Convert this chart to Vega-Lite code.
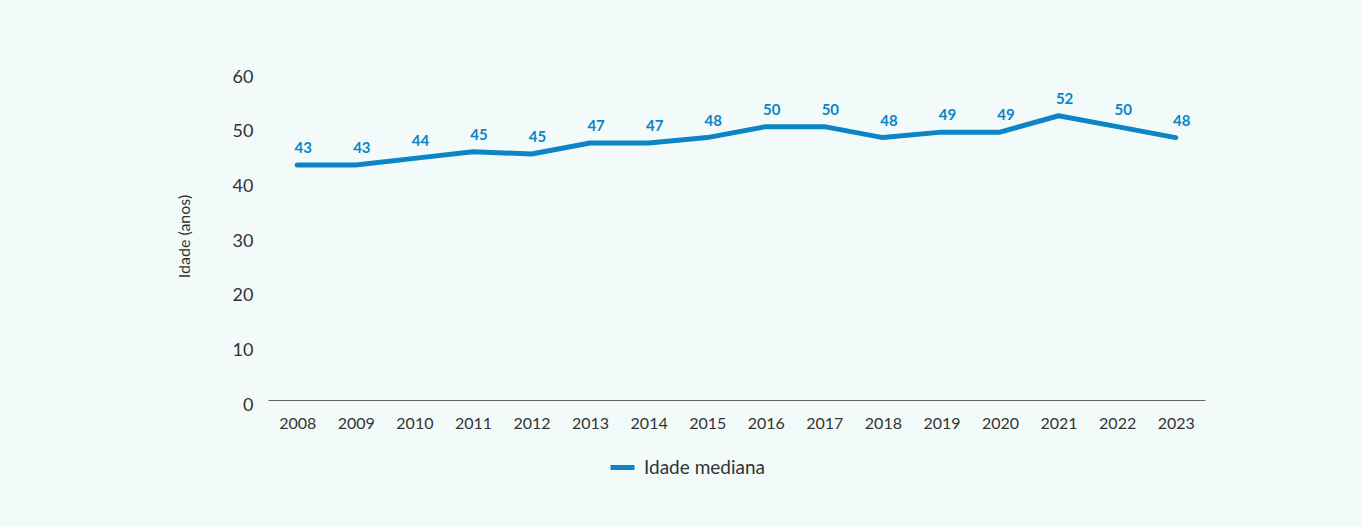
{
  "$schema": "https://vega.github.io/schema/vega-lite/v6.json",
  "width": 937,
  "height": 328,
  "autosize": "none",
  "padding": {"left": 268, "top": 72, "right": 157, "bottom": 127},
  "background": "#f2fbf9",
  "config": {
    "font": "Lato",
    "view": {"stroke": null},
    "axis": {"labelColor": "#333333", "titleColor": "#333333", "labelFont": "Lato", "titleFont": "Lato"},
    "legend": {"labelFont": "Lato"}
  },
  "data": {
    "values": [
      {"ano": "2008", "idade": 43},
      {"ano": "2009", "idade": 43},
      {"ano": "2010", "idade": 44.2},
      {"ano": "2011", "idade": 45.4},
      {"ano": "2012", "idade": 45},
      {"ano": "2013", "idade": 47},
      {"ano": "2014", "idade": 47},
      {"ano": "2015", "idade": 48},
      {"ano": "2016", "idade": 50},
      {"ano": "2017", "idade": 50},
      {"ano": "2018", "idade": 48},
      {"ano": "2019", "idade": 49},
      {"ano": "2020", "idade": 49},
      {"ano": "2021", "idade": 52},
      {"ano": "2022", "idade": 50},
      {"ano": "2023", "idade": 48}
    ]
  },
  "encoding": {
    "x": {
      "field": "ano",
      "type": "ordinal",
      "scale": {"type": "point", "padding": 0.5},
      "axis": {
        "title": null,
        "labelAngle": 0,
        "labelFontSize": 16,
        "labelPadding": 15,
        "ticks": false,
        "domainColor": "#666666",
        "domainWidth": 1
      }
    },
    "y": {
      "field": "idade",
      "type": "quantitative",
      "scale": {"domain": [0, 60], "nice": false},
      "axis": {
        "title": "Idade (anos)",
        "titleFontSize": 16,
        "titleFontWeight": "normal",
        "titlePadding": 40,
        "values": [0, 10, 20, 30, 40, 50, 60],
        "labelFontSize": 18,
        "labelPadding": 15,
        "labelOffset": 5,
        "domain": false,
        "ticks": false,
        "grid": false
      }
    }
  },
  "layer": [
    {
      "mark": {"type": "line", "strokeWidth": 5, "strokeCap": "round", "strokeJoin": "round"},
      "encoding": {
        "color": {
          "datum": "Idade mediana",
          "type": "nominal",
          "scale": {"range": ["#0b85c6"]},
          "legend": {
            "title": null,
            "orient": "none",
            "legendX": 340,
            "legendY": 381,
            "symbolType": "stroke",
            "symbolStrokeWidth": 5,
            "symbolSize": 576,
            "labelFontSize": 19,
            "labelColor": "#333333",
            "labelOffset": 7
          }
        }
      }
    },
    {
      "mark": {"type": "text", "dy": -17, "dx": 6, "fontWeight": "bold", "fontSize": 15, "color": "#0b85c6", "baseline": "middle"},
      "encoding": {
        "text": {"field": "idade", "type": "quantitative", "format": ".0f"}
      }
    }
  ]
}
